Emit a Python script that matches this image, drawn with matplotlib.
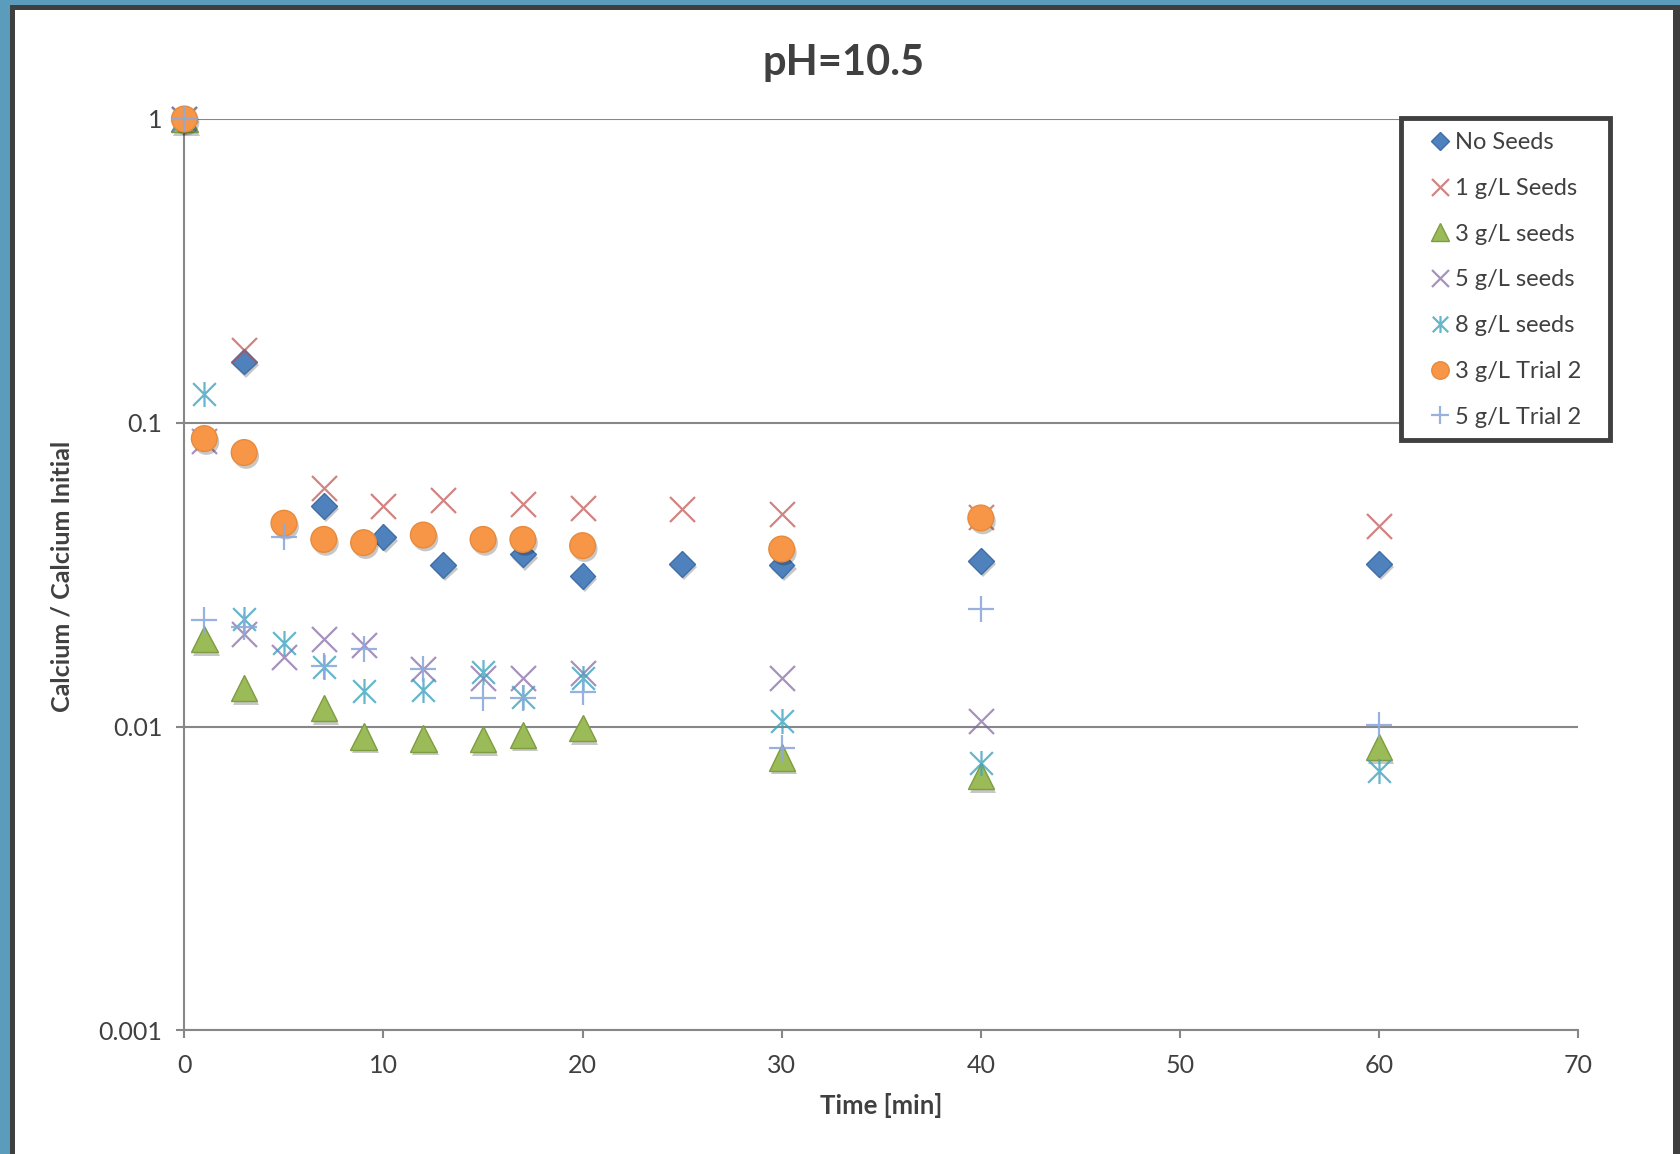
import matplotlib
matplotlib.use("Agg")
import matplotlib.pyplot as plt
from matplotlib.patches import Rectangle
from matplotlib.path import Path
import matplotlib.patheffects as pe
from matplotlib.ticker import FixedLocator, NullLocator, FixedFormatter

plt.rcParams['font.family'] = ['Lato', 'DejaVu Sans']

# ---- data ----
t_no = [0, 3, 7, 10, 13, 17, 20, 25, 30, 40, 60]
no_seeds = [1.0, 0.159, 0.0532, 0.042, 0.034, 0.0369, 0.0313, 0.0343, 0.034, 0.0351, 0.0343]

t_1g = [0, 3, 7, 10, 13, 17, 20, 25, 30, 40, 60]
seeds_1g = [1.0, 0.174, 0.061, 0.0532, 0.0558, 0.054, 0.0523, 0.052, 0.0502, 0.049, 0.0456]

t_3g = [0, 1, 3, 7, 9, 12, 15, 17, 20, 30, 40, 60]
seeds_3g = [1.0, 0.0194, 0.0134, 0.0115, 0.00927, 0.00912, 0.0091, 0.0094, 0.0099, 0.0079, 0.00686, 0.00855]

t_5g = [0, 1, 3, 5, 7, 9, 12, 15, 17, 20, 30, 40]
seeds_5g = [1.0, 0.087, 0.0202, 0.017, 0.0194, 0.0185, 0.0155, 0.0145, 0.0144, 0.0150, 0.0145, 0.0104]

t_8g = [0, 1, 3, 5, 7, 9, 12, 15, 17, 20, 30, 40, 60]
seeds_8g = [1.0, 0.124, 0.0226, 0.0188, 0.0157, 0.0131, 0.0132, 0.0151, 0.0125, 0.0145, 0.0104, 0.0076, 0.00714]

t_3g2 = [0, 1, 3, 5, 7, 9, 12, 15, 17, 20, 30, 40]
trial2_3g = [1.0, 0.0887, 0.0798, 0.0467, 0.0413, 0.0403, 0.0427, 0.0413, 0.0413, 0.0394, 0.0384, 0.0486]

t_5g2 = [0, 1, 3, 5, 7, 9, 12, 15, 17, 20, 30, 40, 60]
trial2_5g = [1.0, 0.0225, 0.0213, 0.042, 0.0158, 0.018, 0.0155, 0.0124, 0.0124, 0.013, 0.0085, 0.0244, 0.0101]

labels = ["No Seeds", "1 g/L Seeds", "3 g/L seeds", "5 g/L seeds",
          "8 g/L seeds", "3 g/L Trial 2", "5 g/L Trial 2"]

y_ticks = [1, 0.1, 0.01, 0.001]
y_tick_labels = ["1", "0.1", "0.01", "0.001"]
x_ticks = [0, 10, 20, 30, 40, 50, 60, 70]

title = "pH=10.5"
xlabel = "Time [min]"
ylabel = "Calcium / Calcium Initial"

# ---- figure ----
W, H = 1681, 1154
fig = plt.figure(figsize=(W / 100, H / 100), dpi=100)
fig.patch.set_facecolor('#5B9BBB')
fig.patches.append(Rectangle((10 / W, 0), (1680 - 10) / W, (H - 5) / H,
                             transform=fig.transFigure, facecolor='#3F3F3F',
                             edgecolor='none', zorder=-10))
fig.patches.append(Rectangle((15 / W, 0), (1673 - 15) / W, (H - 10) / H,
                             transform=fig.transFigure, facecolor='white',
                             edgecolor='none', zorder=-9))

left, right, top, bottom = 184.4, 1578.1, 119.0, 1030.3
ax = fig.add_axes([left / W, 1 - bottom / H, (right - left) / W, (bottom - top) / H])
ax.set_facecolor('none')
ax.set_yscale('log')
ax.set_xlim(0, 70)
ax.set_ylim(0.001, 1)

grid_c = '#878787'
ax.yaxis.set_major_locator(FixedLocator(y_ticks))
ax.yaxis.set_major_formatter(FixedFormatter(y_tick_labels))
ax.yaxis.set_minor_locator(NullLocator())
ax.set_xticks(x_ticks)
ax.grid(axis='y', which='major', color=grid_c, linewidth=1.5, zorder=0)
ax.set_axisbelow(True)
for s in ['top', 'right']:
    ax.spines[s].set_visible(False)
for s in ['left', 'bottom']:
    ax.spines[s].set_color(grid_c)
    ax.spines[s].set_linewidth(1.5)
ax.tick_params(axis='both', colors=grid_c, labelcolor='#404040', labelsize=18,
               length=6, width=1.5)
ax.tick_params(axis='y', pad=10)
ax.tick_params(axis='x', pad=11)

star = Path([(-0.5, -0.5), (0.5, 0.5), (-0.5, 0.5), (0.5, -0.5), (0, -0.55), (0, 0.55)],
            [Path.MOVETO, Path.LINETO, Path.MOVETO, Path.LINETO, Path.MOVETO, Path.LINETO])

shadow = [pe.SimplePatchShadow(offset=(1.5, -2.5), shadow_rgbFace='#000000', alpha=0.22),
          pe.Normal()]

series = [
    (t_no, no_seeds, dict(marker='D', ms=13, mfc='#4F81BD', mec='#3F6FA8', mew=1.0), True),
    (t_1g, seeds_1g, dict(marker='x', ms=18, mec='#C0504D', mew=1.6, alpha=0.7), False),
    (t_3g, seeds_3g, dict(marker='^', ms=19, mfc='#9BBB59', mec='#7E9C40', mew=1.0), True),
    (t_5g, seeds_5g, dict(marker='x', ms=18, mec='#8064A2', mew=1.6, alpha=0.7), False),
    (t_8g, seeds_8g, dict(marker=star, ms=18, mec='#3FA3BE', mew=1.6, alpha=0.8), False),
    (t_3g2, trial2_3g, dict(marker='o', ms=18.5, mfc='#F79646', mec='#E88A3C', mew=1.0), True),
    (t_5g2, trial2_5g, dict(marker='+', ms=19, mec='#8EA9DB', mew=1.6, alpha=0.9), False),
]

handles = []
for i, ((xs, ys, st, sh), lab) in enumerate(zip(series, labels)):
    ln, = ax.plot(xs, ys, linestyle='none', label=lab, zorder=3 + i,
                  clip_on=False, **st)
    if sh:
        ln.set_path_effects(shadow)
    handles.append(ln)

fig.text(0.502, 1 - 63 / H, title, ha='center', va='center', fontsize=30,
         fontweight='bold', color='#404040')
fig.text(881 / W, 1 - 1105 / H, xlabel, ha='center', va='center', fontsize=18.5,
         fontweight='bold', color='#404040')
fig.text(62 / W, 1 - 576 / H, ylabel, ha='center', va='center', fontsize=18,
         fontweight='bold', color='#404040', rotation=90)

# legend frame drawn separately
fig.patches.append(Rectangle((1401 / W, 1 - 440 / H), (1610 - 1401) / W, (440 - 118) / H,
                             transform=fig.transFigure, facecolor='white',
                             edgecolor='#404040', linewidth=3.5, zorder=5))
leg = fig.legend(handles=handles, labels=labels, loc='upper left',
                 bbox_to_anchor=(1428 / W, 1 - 132 / H), bbox_transform=fig.transFigure,
                 frameon=False, fontsize=17,
                 markerscale=0.68, handlelength=1.0, handletextpad=0.14,
                 labelspacing=1.05, borderpad=0, borderaxespad=0)
leg.set_zorder(6)
for t in leg.get_texts():
    t.set_color('#404040')
for h in leg.legend_handles:
    h.set_path_effects([])

fig.savefig('out.png', dpi=100, facecolor=fig.get_facecolor())
